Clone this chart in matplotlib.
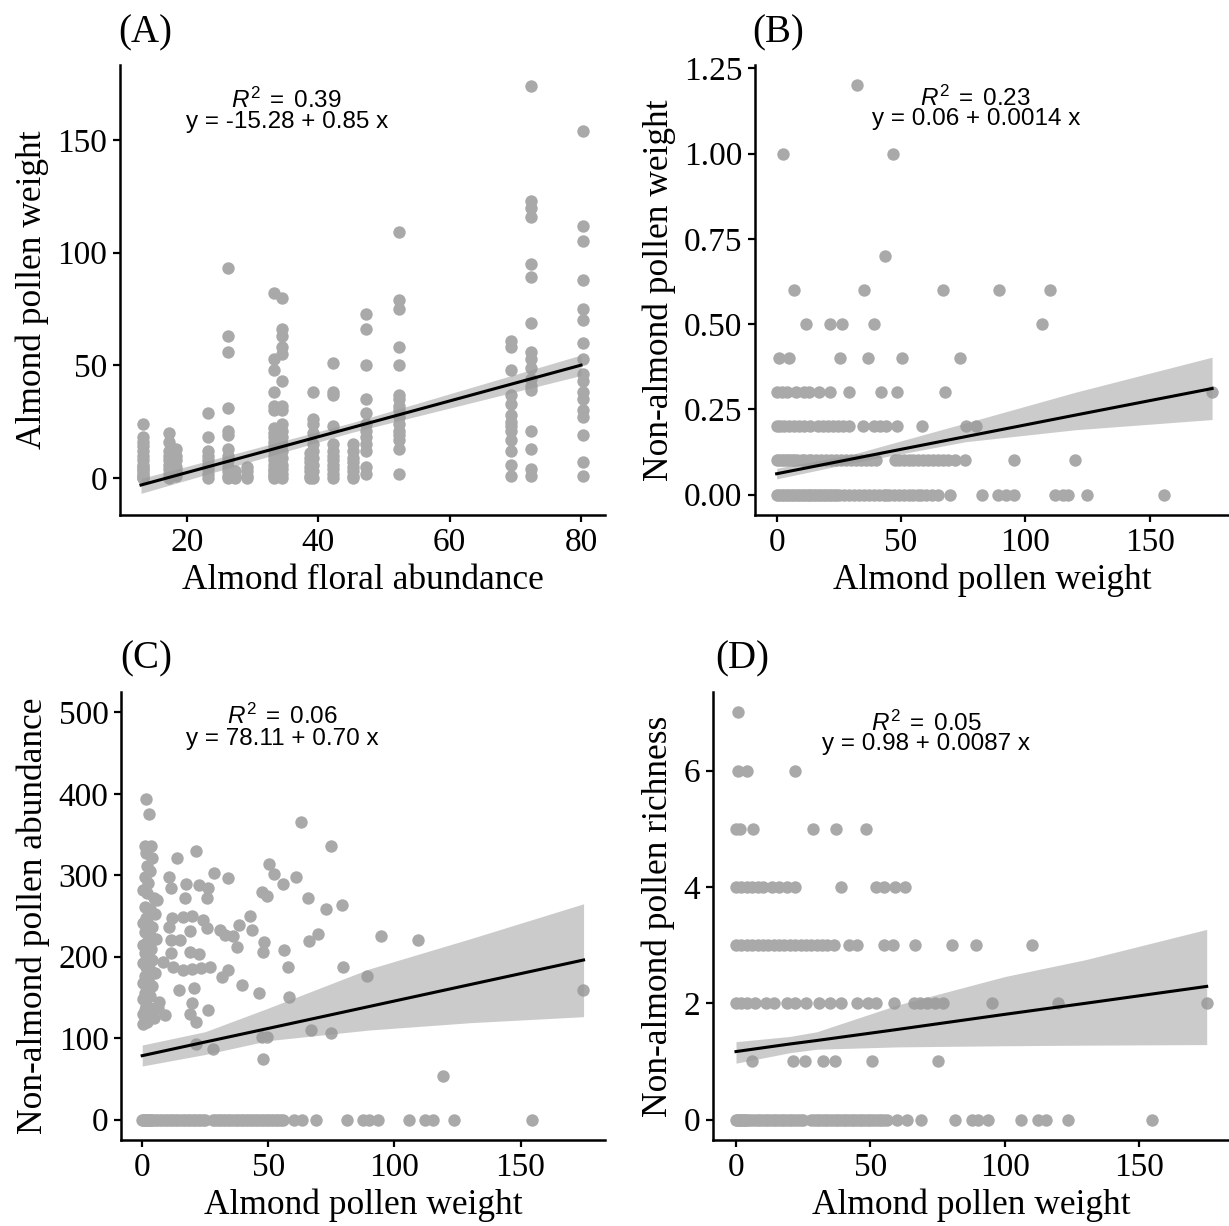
import numpy as np
import matplotlib
matplotlib.use("Agg")
import matplotlib.pyplot as plt

# ---- dati ----
# (A) peso polline mandorlo vs abbondanza fiori
a_abund = [13.3, 17.3, 18.4, 23.2, 26.3, 27.3, 29.2, 33.3, 34.4, 38.7,
           39.2, 42.3, 45.3, 47.3, 52.3, 69.3, 72.4, 80.3]
a_weights = [
    [24, 18, 16, 14, 12, 10, 8, 6, 5, 4, 3, 2, 1, 0, 0],
    [20, 16, 12, 10, 8, 6, 4, 2, 0],
    [13, 10, 8, 5, 3, 1],
    [29, 18, 12, 10, 8, 6, 4, 2, 0],
    [93, 63, 56, 31, 21, 19, 13, 10, 8, 5, 3, 1, 0],
    [3, 1, 0],
    [5, 3, 1, 0],
    [82, 53, 48, 38, 32, 30, 22, 20, 18, 16, 14, 12, 10, 8, 6, 4, 3, 2, 1, 0],
    [80, 66, 63, 58, 55, 43, 32, 30, 24, 21, 18, 15, 12, 9, 6, 4, 2, 0],
    [11, 9, 7, 5, 3, 1, 0],
    [38, 26, 24, 20, 15, 12, 9, 6, 3, 0],
    [51, 38, 37, 23, 15, 12, 10, 8, 6, 4, 2, 0],
    [15, 12, 9, 7, 5, 3, 1, 0],
    [73, 66, 50, 35, 29, 24, 21, 18, 15, 12, 5, 2],
    [109, 79, 75, 58, 50, 37, 35, 32, 30, 27, 24, 21, 19, 17, 13, 2],
    [61, 58, 48, 37, 33, 28, 25, 23, 21, 17, 12, 6, 1],
    [174, 123, 120, 116, 95, 89, 69, 56, 53, 49, 44, 41, 39, 21, 13, 4, 1],
    [154, 112, 105, 88, 75, 70, 60, 53, 46, 43, 38, 35, 30, 27, 19, 7, 1],
]
a_fit_x = [13, 45, 80]
a_fit_mid = [-3.1, 22.3, 50.1]
a_fit_lo = [-6.8, 20.2, 45.5]
a_fit_hi = [-0.2, 24.5, 54.6]

# (B) peso polline non-mandorlo vs peso polline mandorlo
b_levels = [0.0, 0.1, 0.2, 0.3, 0.4, 0.5, 0.6, 0.7, 1.0, 1.2]
b_weights = [
    [0, 1, 2, 3, 4, 5, 6, 7, 8, 9, 10, 11, 12, 13, 14, 15, 16, 17, 18, 19, 20,
     21, 22, 23, 24, 25, 27, 29, 31, 33, 35, 37, 39, 41, 43, 44, 45, 47, 49, 51,
     53, 55, 57, 58, 60, 62.5, 65, 69.5, 82.4, 89, 92, 95.5, 112, 115, 117,
     124.6, 155.7],
    [0, 1, 2, 3, 4, 5, 6, 7, 8, 10, 11, 13, 14, 16, 18, 20, 22, 24, 26, 28, 30,
     32, 34, 36, 38, 40, 47.5, 49, 51, 53, 55, 57, 59, 61, 63, 65, 67, 69, 71.5,
     75.5, 95.3, 120],
    [0, 1.5, 3, 5, 7, 9, 11, 13.5, 16.5, 18.5, 20.5, 22.5, 24.5, 26.5, 29, 34.7,
     39, 41.5, 44, 48.5, 58.6, 76, 80.3],
    [0, 2, 4, 7.7, 11, 13, 17, 21.5, 29, 42, 48.5, 67.8, 175],
    [1, 5, 25.5, 36.8, 50.3, 73.5],
    [11.8, 21.5, 26.4, 39, 106.8],
    [6.8, 35.1, 66.8, 89.5, 110],
    [43.5],
    [2.7, 46.9],
    [32.4],
]
b_fit_x = [0, 30, 76, 120, 175]
b_fit_mid = [0.061, 0.104, 0.17, 0.233, 0.311]
b_fit_lo = [0.046, 0.092, 0.155, 0.19, 0.22]
b_fit_hi = [0.077, 0.117, 0.21, 0.30, 0.403]

# campioni senza polline non-mandorlo (riga a zero in C e D)
zero_x = [0, 0.5, 1, 1.5, 2, 2.5, 3, 3.5, 4, 5, 6, 7, 8, 9, 10, 11, 12, 13, 14,
          15, 16, 17, 18, 19, 20, 21, 22, 23, 24, 25, 28, 29, 30, 31, 32, 33, 34,
          35, 36, 37, 38, 39, 40, 41, 42, 43, 44, 45, 46, 47, 48, 49, 50, 51, 52,
          53, 54, 55, 56, 60, 63.4, 68.9, 81.3, 87.6, 90, 93.6, 105.9, 112.1,
          115.4, 123.6, 154.6]

# (C) abbondanza polline non-mandorlo
c_x = [1.7, 2.8,
       1, 3.5, 1.5, 4, 2, 3, 1, 2.5, 0.5, 2, 4.5, 6, 1, 3, 5, 1.5, 0.5, 2.5, 4,
       1, 3, 5.5, 2, 0.5, 3.5, 1, 2, 4, 0.5, 1.5, 3, 5, 1, 2.5, 0.5, 4, 2, 1, 3,
       0.5, 6.5, 1.5, 3, 1, 0.5, 2, 4.5, 1, 0.5, 2,
       13.9, 21.3, 10.7, 11.6, 17.3, 22.6, 26.2, 16.9, 25.8, 28.5, 34.1, 50.2,
       52.2, 55.9, 60.8, 62.9, 75, 47.7, 49.3, 65.8, 72.8, 79.4, 12, 16.3, 19.6,
       24.2, 25.5, 10.7, 18.9, 42.7, 43.4, 38.5, 30.8, 32.8, 36.1, 37.4, 11.6,
       14.9, 48.2, 48, 56.2, 66.2, 69.9, 94.5, 109.2, 18.9, 22.6, 11.6, 8.3,
       12.3, 16.3, 19.6, 23.5, 26.8, 31.5, 34.1, 57.9, 79.7, 89, 14.7, 20.5,
       19.6, 39.4, 46.4, 58.3, 18.9, 21.3, 26.2, 9, 6.3, 21.3, 27.9, 47.7, 49.3,
       66.9, 74.7, 48, 119.3, 174.6]
c_y = [394, 375,
       336, 336, 327, 321, 311, 305, 298, 290, 282, 278, 272, 270, 261, 258, 252,
       248, 242, 240, 236, 230, 226, 222, 218, 214, 210, 205, 200, 196, 192, 188,
       184, 180, 176, 172, 168, 164, 160, 156, 152, 148, 145, 140, 137, 134, 130,
       127, 125, 122, 118, 120,
       321, 330, 298, 284, 289, 288, 284, 272, 272, 303, 297, 314, 302, 289, 298,
       366, 336, 279, 274, 272, 259, 264, 247, 249, 250, 245, 235, 237, 232, 250,
       233, 239, 233, 227, 225, 212, 220, 220, 218, 206, 208, 219, 228, 226, 221,
       206, 203, 204, 194, 188, 184, 185, 186, 188, 175, 184, 188, 188, 176, 159,
       161, 143, 165, 156, 150, 130, 120, 135, 129, 137, 93, 87, 102, 101, 110,
       106, 74, 54, 159]
c_fit_x = [0, 25, 50, 90, 130, 175]
c_fit_mid = [78.5, 95.3, 112, 138.9, 165.8, 196]
c_fit_lo = [65.8, 80, 97, 110, 119, 126.4]
c_fit_hi = [91.6, 108, 137, 185, 222, 265]

# (D) ricchezza polline non-mandorlo
d_levels = [1, 2, 3, 4, 5, 6, 7]
d_weights = [
    [5.8, 21.3, 25.6, 32.5, 36.8, 50.4, 75.2],
    [0, 2, 4, 7, 11, 14, 19, 22, 26, 31, 35, 39, 45, 49, 52, 58.7, 66, 68.5,
     71, 74, 77, 95, 119.8, 175.2],
    [0, 2, 4, 6, 8, 10, 12, 14, 16, 18, 20, 22, 24, 26, 28, 30, 32, 34, 36.5,
     42, 45, 55, 58.5, 66.5, 80.2, 89.2, 110],
    [0, 2, 4, 6, 8, 10, 13.5, 16, 19, 22, 39, 52, 55, 59, 63],
    [0, 1.5, 6.4, 28.7, 37, 48.2],
    [0.9, 4.2, 21.9],
    [0.9],
]
d_fit_x = [0, 20, 30, 60, 100, 130, 175]
d_fit_mid = [1.17, 1.30, 1.36, 1.55, 1.81, 2.00, 2.29]
d_fit_lo = [0.97, 1.15, 1.21, 1.25, 1.27, 1.28, 1.29]
d_fit_hi = [1.34, 1.43, 1.51, 1.97, 2.46, 2.75, 3.27]

# ---- stile ----
plt.rcParams["font.family"] = "Liberation Serif"
plt.rcParams["mathtext.fontset"] = "custom"
plt.rcParams["mathtext.rm"] = "Liberation Sans"
plt.rcParams["mathtext.it"] = "Liberation Sans:italic"

W, H = 1229, 1226
fig = plt.figure(figsize=(W / 100, H / 100), dpi=100)

PT_COL = "#A9A9A9"
PT_SIZE = 80


def box(l, t, r, b):
    return [l / W, 1 - b / H, (r - l) / W, (b - t) / H]


def style(ax, xlab, ylab):
    for s in ["top", "right"]:
        ax.spines[s].set_visible(False)
    for s in ["left", "bottom"]:
        ax.spines[s].set_linewidth(1.8)
        ax.spines[s].set_color("black")
    ax.tick_params(direction="out", length=5, width=1.6, labelsize=24,
                   colors="black", pad=4)
    ax.set_xlabel(xlab, fontsize=25.5, labelpad=4)
    ax.set_ylabel(ylab, fontsize=25.5, labelpad=6)


def smooth(ax, fx, fmid, flo, fhi):
    ax.fill_between(fx, flo, fhi, color="#999999", alpha=0.5, lw=0, zorder=3)
    ax.plot(fx, fmid, color="black", lw=2.2, zorder=4)


def annot(ax, xf, y1, y2, r2, eq):
    ax.text(xf, y1, r"$\mathit{R}^{2}\;=\;\mathrm{" + r2 + "}$", transform=ax.transAxes,
            ha="center", va="baseline", fontsize=17.5)
    ax.text(xf, y2, eq, transform=ax.transAxes, ha="center", va="baseline",
            fontsize=17.5, family="Liberation Sans")


# (A)
axA = fig.add_axes(box(120, 65, 605, 515))
for xv, ys in zip(a_abund, a_weights):
    axA.scatter([xv] * len(ys), ys, s=PT_SIZE, color=PT_COL, lw=0, zorder=2)
smooth(axA, a_fit_x, a_fit_mid, a_fit_lo, a_fit_hi)
axA.set_xlim(9.8, 83.65)
axA.set_ylim(-16.4, 183.3)
axA.set_xticks([20, 40, 60, 80])
axA.set_yticks([0, 50, 100, 150])
style(axA, "Almond floral abundance", "Almond pollen weight")
annot(axA, 0.344, 0.905, 0.859, "0.39", "y = -15.28 + 0.85 x")

# (B)
axB = fig.add_axes(box(755, 65, 1229, 515))
for lv, xs in zip(b_levels, b_weights):
    axB.scatter(xs, [lv] * len(xs), s=PT_SIZE, color=PT_COL, lw=0, zorder=2)
smooth(axB, b_fit_x, b_fit_mid, b_fit_lo, b_fit_hi)
axB.set_xlim(-8.7, 181.8)
axB.set_ylim(-0.06, 1.26)
axB.set_xticks([0, 50, 100, 150])
axB.set_yticks([0, 0.25, 0.5, 0.75, 1.0, 1.25])
axB.set_yticklabels(["0.00", "0.25", "0.50", "0.75", "1.00", "1.25"])
style(axB, "Almond pollen weight", "Non-almond pollen weight")
annot(axB, 0.466, 0.909, 0.867, "0.23", "y = 0.06 + 0.0014 x")

# (C)
axC = fig.add_axes(box(121, 692, 605, 1140))
axC.scatter(zero_x, [0] * len(zero_x), s=PT_SIZE, color=PT_COL, lw=0, zorder=2)
axC.scatter(c_x, c_y, s=PT_SIZE, color=PT_COL, lw=0, zorder=2)
smooth(axC, c_fit_x, c_fit_mid, c_fit_lo, c_fit_hi)
axC.set_xlim(-8.4, 183.5)
axC.set_ylim(-25, 525)
axC.set_xticks([0, 50, 100, 150])
axC.set_yticks([0, 100, 200, 300, 400, 500])
style(axC, "Almond pollen weight", "Non-almond pollen abundance")
annot(axC, 0.333, 0.928, 0.882, "0.06", "y = 78.11 + 0.70 x")

# (D)
axD = fig.add_axes(box(713, 692, 1229, 1140))
axD.scatter(zero_x, [0] * len(zero_x), s=PT_SIZE, color=PT_COL, lw=0, zorder=2)
for lv, xs in zip(d_levels, d_weights):
    axD.scatter(xs, [lv] * len(xs), s=PT_SIZE, color=PT_COL, lw=0, zorder=2)
smooth(axD, d_fit_x, d_fit_mid, d_fit_lo, d_fit_hi)
axD.set_xlim(-8.55, 183.3)
axD.set_ylim(-0.35, 7.35)
axD.set_xticks([0, 50, 100, 150])
axD.set_yticks([0, 2, 4, 6])
style(axD, "Almond pollen weight", "Non-almond pollen richness")
annot(axD, 0.413, 0.913, 0.871, "0.05", "y = 0.98 + 0.0087 x")

# etichette dei pannelli
for lab, px, py in [("(A)", 118, 42), ("(B)", 752, 42), ("(C)", 120, 668), ("(D)", 715, 668)]:
    fig.text(px / W, 1 - py / H, lab, fontsize=28, ha="left", va="baseline")

fig.savefig("out.png", dpi=100)
